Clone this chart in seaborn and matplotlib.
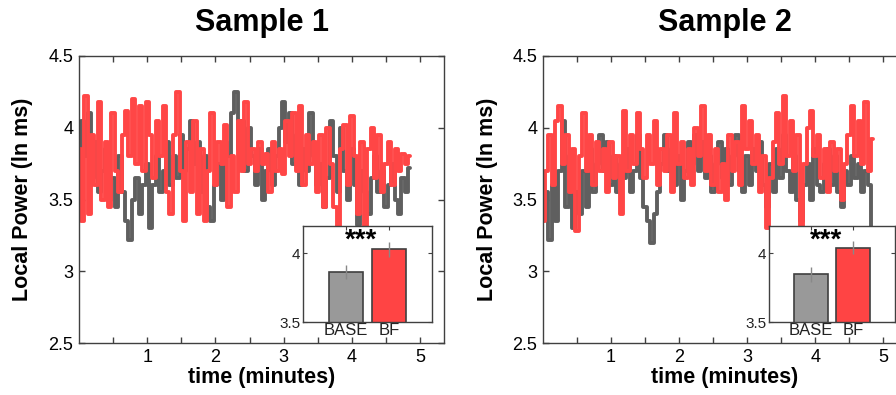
import numpy as np
import pandas as pd
import matplotlib
matplotlib.use("Agg")
import matplotlib.pyplot as plt
import seaborn as sns

# ── data (time step 0.05 min) ─────────────────────────────────────────────
time_min = np.round(np.arange(0, 4.851, 0.05), 2)

s1_base = [3.75, 4.05, 3.80, 4.10, 3.65, 3.90, 3.55, 3.70, 3.85, 3.50,
           3.65, 3.45, 3.80, 3.55, 3.35, 3.22, 3.50, 3.65, 3.40, 3.60,
           3.75, 3.30, 3.60, 3.80, 3.55, 3.70, 3.90, 3.60, 3.80, 3.65,
           3.95, 3.70, 3.85, 4.05, 3.75, 3.90, 3.55, 3.80, 3.45, 3.35,
           3.60, 3.75, 3.50, 3.90, 3.80, 4.10, 4.25, 3.85, 4.05, 3.70,
           4.00, 3.80, 3.60, 3.85, 3.50, 3.70, 3.85, 3.60, 3.80, 4.00,
           4.18, 3.90, 4.10, 3.75, 3.95, 3.60, 3.85, 3.70, 4.10, 3.80,
           3.60, 3.75, 3.45, 3.65, 4.05, 3.80, 3.55, 4.00, 3.70, 3.50,
           3.85, 3.60, 3.32, 3.70, 3.55, 3.40, 3.65, 3.80, 3.55, 3.70,
           3.45, 3.60, 3.75, 3.50, 3.40, 3.65, 3.55, 3.72]
s1_bf = [3.85, 3.35, 4.22, 3.40, 3.95, 3.60, 4.18, 3.50, 3.90, 3.45,
         4.10, 3.70, 3.55, 3.95, 4.12, 3.80, 4.20, 3.75, 4.15, 3.70,
         4.18, 3.95, 3.65, 4.05, 3.80, 4.15, 3.55, 3.40, 3.95, 4.25,
         3.70, 3.35, 3.90, 3.55, 4.05, 3.40, 3.85, 3.35, 3.70, 4.10,
         3.60, 3.90, 3.75, 4.02, 3.45, 3.80, 3.55, 4.05, 3.70, 4.18,
         3.75, 3.85, 3.70, 3.90, 3.75, 3.82, 3.55, 3.90, 3.70, 3.85,
         3.68, 4.05, 3.80, 4.10, 3.70, 4.15, 3.60, 3.95, 3.75, 3.90,
         3.55, 3.95, 3.45, 4.00, 3.75, 3.45, 3.30, 3.85, 4.02, 3.60,
         4.08, 3.80, 3.40, 3.90, 3.30, 3.85, 4.00, 3.65, 3.95, 3.55,
         3.75, 3.90, 3.60, 3.85, 3.70, 3.82, 3.75, 3.80]

s2_base = [3.40, 3.55, 3.22, 3.60, 3.35, 3.70, 4.05, 3.45, 3.80, 3.30,
           3.55, 3.40, 3.70, 3.45, 3.85, 3.55, 3.75, 3.95, 3.70, 3.90,
           3.60, 3.80, 3.55, 3.75, 3.65, 3.85, 3.55, 3.70, 3.95, 3.65,
           3.45, 3.35, 3.20, 3.40, 3.55, 3.75, 3.95, 3.70, 3.85, 3.60,
           3.80, 3.50, 3.70, 3.90, 3.75, 3.95, 3.70, 3.90, 3.65, 3.80,
           3.55, 3.75, 3.90, 3.65, 3.85, 3.60, 3.80, 3.95, 3.70, 3.55,
           3.80, 3.60, 3.85, 3.70, 3.90, 3.60, 3.45, 3.75, 3.55, 3.85,
           3.65, 3.95, 3.70, 3.55, 3.80, 3.50, 3.35, 3.60, 3.75, 3.50,
           3.85, 3.60, 3.55, 3.75, 3.85, 3.60, 3.80, 3.55, 3.45, 3.70,
           3.60, 3.80, 3.65, 3.75, 3.55, 3.70, 3.60, 3.30]
s2_bf = [3.35, 3.70, 3.95, 3.60, 4.05, 4.15, 3.75, 3.95, 3.55, 3.85,
         3.28, 3.80, 4.10, 3.70, 3.95, 3.60, 3.90, 3.70, 3.85, 3.55,
         3.90, 3.65, 3.80, 3.40, 4.12, 3.70, 3.95, 3.75, 4.10, 3.85,
         3.65, 3.95, 3.75, 4.05, 3.60, 3.85, 3.70, 3.95, 3.55, 4.10,
         3.75, 3.90, 3.65, 3.85, 3.60, 4.00, 3.80, 4.15, 3.70, 3.95,
         3.60, 3.85, 3.55, 3.75, 3.50, 3.95, 3.70, 3.90, 3.60, 4.15,
         3.85, 4.05, 3.75, 3.95, 3.55, 3.80, 3.30, 3.65, 3.90, 4.10,
         3.75, 4.22, 3.80, 4.05, 3.70, 3.95, 3.30, 3.75, 4.00, 4.12,
         3.80, 3.95, 3.65, 3.85, 3.55, 3.90, 3.70, 3.85, 3.50, 3.75,
         3.95, 4.15, 3.80, 4.05, 3.75, 4.18, 3.70, 3.92]

# inset bar summaries (mean, error)
conditions = ["BASE", "BF"]
s1_means = [3.862, 4.03]
s1_err = [0.05, 0.055]
s2_means = [3.848, 4.043]
s2_err = [0.054, 0.05]

titles = ["Sample 1", "Sample 2"]

LINE_GRAY = "#5f5f5f"
LINE_RED = "#ff4646"
BAR_GRAY = "#999999"
BAR_RED = "#ff4444"
EDGE = "#404040"

sns.set_style("ticks")
plt.rcParams["font.family"] = ["Liberation Sans", "DejaVu Sans"]
plt.rcParams["text.color"] = "black"
plt.rcParams["axes.labelcolor"] = "black"

W, H = 896, 395
fig = plt.figure(figsize=(W / 100, H / 100), dpi=100)


def px_axes(left, top, right, bottom):
    return fig.add_axes([left / W, 1 - bottom / H, (right - left) / W, (bottom - top) / H])


def draw_main(ax, base, bf, title, cx):
    # blocky stair look like the original trace
    sns.lineplot(x=time_min, y=base, ax=ax, color=LINE_GRAY, linewidth=2.8,
                 drawstyle="steps-mid")
    sns.lineplot(x=time_min, y=bf, ax=ax, color=LINE_RED, linewidth=2.8,
                 drawstyle="steps-mid")
    ax.set_xlim(0, 5.35)
    ax.set_ylim(2.5, 4.5)
    xt = np.arange(0.5, 5.01, 0.5)
    ax.set_xticks(xt)
    ax.set_xticklabels([f"{v:g}" if v == int(v) else "" for v in xt])
    yt = [2.5, 3, 3.5, 4, 4.5]
    ax.set_yticks(yt)
    ax.set_yticklabels([f"{v:g}" for v in yt])
    ax.tick_params(direction="in", top=True, right=True, length=4,
                   width=1, color=EDGE, labelsize=13, labelcolor="black", pad=4)
    for sp in ax.spines.values():
        sp.set_color(EDGE)
        sp.set_linewidth(1)
    ax.set_xlabel("time (minutes)", fontsize=15.5, fontweight="bold")
    ax.set_ylabel("Local Power (ln ms)", fontsize=15.5, fontweight="bold")
    ax.xaxis.set_label_coords(0.5, -0.085)
    ax.yaxis.set_label_coords(-0.125, 0.5)
    fig.text(cx / W, 1 - 23 / H, title, ha="center", va="center",
             fontsize=22, fontweight="bold")


def draw_inset(ax, means, errs):
    df = pd.DataFrame({"condition": conditions, "value": means})
    sns.barplot(data=df, x="condition", y="value", hue="condition",
                palette=[BAR_GRAY, BAR_RED], ax=ax, width=0.8, saturation=1,
                edgecolor=EDGE, linewidth=1.2, legend=False, errorbar=None)
    ax.errorbar([0, 1], means, yerr=errs, fmt="none", ecolor="#888888",
                elinewidth=1, capsize=0)
    ax.set_xlim(-1, 2)
    ax.set_ylim(3.5, 4.2)
    ax.set_yticks([3.5, 4])
    ax.set_yticklabels(["3.5", "4"])
    ax.set_xlabel("")
    ax.set_ylabel("")
    ax.tick_params(direction="in", top=True, right=True, length=3,
                   width=0.8, color=EDGE, labelsize=12, labelcolor="#222222",
                   pad=2)
    ax.tick_params(axis="y", labelsize=11)
    ax.tick_params(axis="x", pad=1)
    for sp in ax.spines.values():
        sp.set_color(EDGE)
        sp.set_linewidth(1)
    ax.text(0.35, 4.09, "***", ha="center", va="center",
            fontsize=20, fontweight="bold", color="black")


ax1 = px_axes(79, 56, 444, 343)
draw_main(ax1, s1_base, s1_bf, titles[0], 262)
ins1 = px_axes(303, 226, 432, 322)
draw_inset(ins1, s1_means, s1_err)

ax2 = px_axes(543, 56, 907, 343)
draw_main(ax2, s2_base, s2_bf, titles[1], 725)
ins2 = px_axes(769, 226, 895, 322)
draw_inset(ins2, s2_means, s2_err)

fig.savefig("out.png", dpi=100)
